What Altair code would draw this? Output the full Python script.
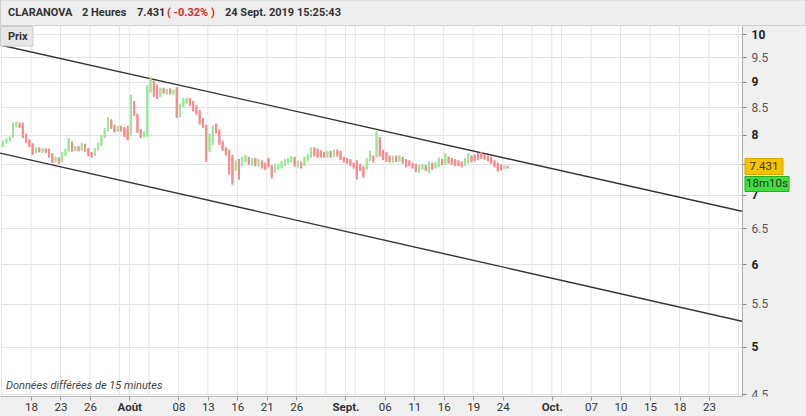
import altair as alt
import pandas as pd

# ---------------- data ----------------
# trading-day index (0 = Mon 15 July 2019) of the x-axis labels
tick_days = [3, 6, 9, 13, 18, 21, 24, 27, 30, 35, 39, 42, 45, 48, 51, 56, 60, 63, 66, 69, 72]
tick_labels = ["18", "23", "26", "Août", "08", "13", "16", "21", "26", "Sept.", "06",
               "11", "16", "19", "24", "Oct.", "07", "10", "15", "18", "23"]
month_days = [13, 35, 56]
grid_days = list(range(0, 76, 3)) + month_days
y_ticks = [4.5, 5, 5.5, 6, 6.5, 7, 7.5, 8, 8.5, 9, 9.5, 10]
hidden_y_labels = [7.5]   # covered by the last-price box in the original

# candles (3 per trading day)
opens = [7.80, 7.86, 7.90, 7.95, 8.15, 8.20, 8.18, 8.00, 7.90, 7.84,
         7.70, 7.76, 7.70, 7.75, 7.74, 7.66, 7.55, 7.60, 7.54, 7.64,
         7.72, 7.86, 7.73, 7.78, 7.73, 7.82, 7.75, 7.68, 7.64, 7.74,
         7.82, 7.96, 8.08, 8.26, 8.14, 8.06, 8.14, 8.12, 8.10, 7.99,
         8.60, 8.36, 8.08, 7.96, 7.98, 8.80, 9.00, 8.90, 8.72, 8.86,
         8.76, 8.84, 8.76, 8.86, 8.34, 8.52, 8.60, 8.66, 8.60, 8.50,
         8.42, 8.26, 8.16, 7.72, 7.85, 8.18, 8.06, 7.86, 7.76, 7.72,
         7.62, 7.40, 7.56, 7.48, 7.54, 7.60, 7.50, 7.58, 7.48, 7.54,
         7.50, 7.58, 7.46, 7.38, 7.42, 7.44, 7.48, 7.52, 7.54, 7.60,
         7.46, 7.52, 7.48, 7.56, 7.62, 7.76, 7.72, 7.70, 7.68, 7.62,
         7.70, 7.63, 7.72, 7.70, 7.60, 7.58, 7.56, 7.50, 7.54, 7.48,
         7.44, 7.42, 7.56, 7.62, 7.62, 7.94, 7.72, 7.68, 7.62, 7.54,
         7.62, 7.55, 7.60, 7.56, 7.54, 7.50, 7.48, 7.38, 7.42, 7.46,
         7.40, 7.50, 7.44, 7.46, 7.56, 7.50, 7.60, 7.58, 7.56, 7.54,
         7.52, 7.48, 7.52, 7.62, 7.62, 7.64, 7.68, 7.64, 7.62, 7.60,
         7.54, 7.50, 7.47, 7.42, 7.45]
closes = [7.88, 7.92, 7.95, 8.20, 8.22, 8.14, 7.95, 7.88, 7.80, 7.66,
          7.76, 7.70, 7.75, 7.70, 7.62, 7.52, 7.60, 7.53, 7.66, 7.74,
          7.92, 7.72, 7.78, 7.73, 7.84, 7.72, 7.64, 7.62, 7.75, 7.84,
          7.98, 8.10, 8.28, 8.12, 8.06, 8.14, 8.08, 7.98, 7.92, 8.70,
          8.36, 8.05, 7.96, 8.04, 8.90, 9.05, 8.82, 8.70, 8.85, 8.78,
          8.84, 8.76, 8.82, 8.32, 8.55, 8.64, 8.66, 8.56, 8.45, 8.38,
          8.22, 8.14, 7.56, 7.98, 8.14, 8.04, 7.84, 7.74, 7.66, 7.34,
          7.20, 7.52, 7.30, 7.60, 7.62, 7.50, 7.57, 7.50, 7.56, 7.44,
          7.42, 7.46, 7.30, 7.47, 7.48, 7.52, 7.55, 7.58, 7.60, 7.48,
          7.52, 7.44, 7.60, 7.64, 7.76, 7.64, 7.62, 7.62, 7.62, 7.70,
          7.62, 7.72, 7.64, 7.58, 7.54, 7.52, 7.48, 7.44, 7.26, 7.40,
          7.30, 7.56, 7.70, 7.54, 8.04, 7.64, 7.60, 7.56, 7.54, 7.62,
          7.55, 7.62, 7.52, 7.46, 7.48, 7.44, 7.38, 7.46, 7.48, 7.40,
          7.52, 7.42, 7.50, 7.58, 7.50, 7.65, 7.52, 7.50, 7.48, 7.48,
          7.46, 7.58, 7.66, 7.54, 7.56, 7.58, 7.60, 7.58, 7.56, 7.52,
          7.46, 7.40, 7.41, 7.46, 7.431]
highs = [7.90, 7.94, 7.97, 8.22, 8.24, 8.22, 8.22, 8.02, 7.92, 7.85,
         7.78, 7.78, 7.77, 7.76, 7.76, 7.68, 7.62, 7.61, 7.70, 7.76,
         7.94, 7.88, 7.80, 7.80, 7.86, 7.84, 7.77, 7.70, 7.77, 7.86,
         8.00, 8.12, 8.32, 8.28, 8.18, 8.16, 8.16, 8.14, 8.16, 8.74,
         8.62, 8.38, 8.10, 8.06, 8.93, 9.10, 9.02, 8.94, 8.88, 8.88,
         8.86, 8.87, 8.84, 8.89, 8.57, 8.68, 8.68, 8.68, 8.62, 8.54,
         8.45, 8.30, 8.18, 8.02, 8.17, 8.20, 8.10, 7.90, 7.78, 7.74,
         7.65, 7.56, 7.58, 7.62, 7.65, 7.62, 7.60, 7.60, 7.58, 7.56,
         7.52, 7.60, 7.48, 7.50, 7.50, 7.55, 7.58, 7.60, 7.63, 7.62,
         7.55, 7.54, 7.62, 7.66, 7.78, 7.78, 7.76, 7.73, 7.70, 7.72,
         7.72, 7.74, 7.74, 7.72, 7.62, 7.60, 7.58, 7.52, 7.56, 7.50,
         7.46, 7.60, 7.72, 7.64, 8.06, 7.96, 7.74, 7.70, 7.64, 7.64,
         7.64, 7.65, 7.62, 7.58, 7.56, 7.52, 7.50, 7.48, 7.50, 7.48,
         7.54, 7.52, 7.53, 7.61, 7.58, 7.68, 7.62, 7.60, 7.58, 7.56,
         7.54, 7.60, 7.68, 7.64, 7.66, 7.68, 7.70, 7.66, 7.64, 7.62,
         7.56, 7.52, 7.49, 7.48, 7.47]
lows = [7.78, 7.84, 7.88, 7.94, 8.13, 8.12, 7.94, 7.85, 7.78, 7.65,
        7.68, 7.69, 7.68, 7.68, 7.60, 7.51, 7.52, 7.50, 7.53, 7.63,
        7.70, 7.70, 7.71, 7.71, 7.72, 7.70, 7.62, 7.60, 7.63, 7.72,
        7.80, 7.94, 8.06, 8.10, 8.04, 8.05, 8.05, 7.96, 7.90, 7.98,
        8.34, 8.03, 7.94, 7.95, 7.96, 8.78, 8.70, 8.66, 8.70, 8.76,
        8.74, 8.74, 8.74, 8.30, 8.32, 8.50, 8.56, 8.52, 8.42, 8.36,
        8.18, 8.12, 7.53, 7.70, 7.82, 8.02, 7.82, 7.72, 7.64, 7.32,
        7.16, 7.38, 7.24, 7.46, 7.52, 7.48, 7.47, 7.46, 7.45, 7.42,
        7.40, 7.44, 7.26, 7.35, 7.40, 7.42, 7.46, 7.50, 7.52, 7.45,
        7.44, 7.42, 7.46, 7.54, 7.60, 7.62, 7.60, 7.60, 7.60, 7.60,
        7.60, 7.61, 7.62, 7.56, 7.52, 7.50, 7.46, 7.42, 7.24, 7.38,
        7.27, 7.40, 7.54, 7.52, 7.60, 7.62, 7.56, 7.53, 7.52, 7.52,
        7.53, 7.53, 7.50, 7.44, 7.46, 7.42, 7.36, 7.35, 7.40, 7.38,
        7.35, 7.40, 7.42, 7.44, 7.48, 7.48, 7.50, 7.48, 7.46, 7.46,
        7.44, 7.46, 7.50, 7.52, 7.54, 7.56, 7.58, 7.56, 7.54, 7.50,
        7.44, 7.37, 7.39, 7.41, 7.42]

# channel lines (start/end at the chart's left and right edges)
chan_days = [-0.155, 75.36]
chan_upper = [9.76, 6.75]
chan_lower = [7.68, 5.29]

last_price = "7.431"
countdown = "18m10s"

# ---------------- tables ----------------
n = len(closes)
candles = pd.DataFrame({
    "t": [(j // 3) + ((j % 3) + 0.5) / 3 for j in range(n)],
    "open": opens, "close": closes, "high": highs, "low": lows,
})
candles["dir"] = ["up" if c >= o else "down" for o, c in zip(opens, closes)]

chan = pd.DataFrame({
    "t": chan_days * 2,
    "p": chan_upper + chan_lower,
    "line": ["upper"] * 2 + ["lower"] * 2,
})
grid_df = pd.DataFrame({"t": grid_days})
one = pd.DataFrame({"a": [0]})

W, H = 742, 370
BG = "#f0f0f0"

xscale = alt.Scale(domain=[chan_days[0], chan_days[1]], nice=False, zero=False)
yscale = alt.Scale(type="log", domain=[4.482, 10.179], nice=False, zero=False)

tick_arr = "[" + ",".join(str(d) for d in tick_days) + "]"
lab_arr = "[" + ",".join("'" + s + "'" for s in tick_labels) + "]"
month_arr = "[" + ",".join(str(d) for d in month_days) + "]"
hid_arr = "[" + ",".join(str(v) for v in hidden_y_labels) + "]"

x_axis = alt.Axis(
    values=tick_days, title=None, grid=False, orient="bottom",
    labelExpr=f"indexof({tick_arr}, datum.value) >= 0 ? {lab_arr}[indexof({tick_arr}, datum.value)] : ''",
    labelFontWeight={"condition": {"test": f"indexof({month_arr}, datum.value) >= 0", "value": "bold"}, "value": "normal"},
    labelFontSize=11.5, labelColor="#333333", labelPadding=1, labelOverlap=False,
    tickSize=4, tickColor="#999999", domainColor="#bbbbbb", labelFlush=False, zindex=1,
)
y_axis = alt.Axis(
    values=y_ticks, title=None, orient="right", grid=True, gridColor="#e2e2e2",
    labelExpr=f"indexof({hid_arr}, datum.value) >= 0 ? '' : (datum.value % 1 === 0 ? format(datum.value, 'd') : format(datum.value, '.1f'))",
    labelFontWeight={"condition": {"test": "datum.value % 1 === 0", "value": "bold"}, "value": "normal"},
    labelColor={"condition": {"test": "datum.value % 1 === 0", "value": "#222222"}, "value": "#555555"},
    labelFontSize=12, labelPadding=5, labelOverlap=False, labelBaseline="middle",
    tickSize=4, tickColor="#888888", domainColor="#aaaaaa", zindex=0,
)

X = lambda f: alt.X(f, scale=xscale, axis=x_axis)
Y = lambda f: alt.Y(f, scale=yscale, axis=y_axis)

vgrid = alt.Chart(grid_df).mark_rule(color="#e4e4e4", strokeWidth=1).encode(
    x=X("t:Q"), y=alt.value(0), y2=alt.value(H),
)

channel = alt.Chart(chan).mark_line(color="#333333", strokeWidth=1.4, clip=True).encode(
    x=X("t:Q"), y=Y("p:Q"), detail="line:N",
)

wicks = alt.Chart(candles).mark_rule(strokeWidth=2).encode(
    x=X("t:Q"), y=Y("low:Q"), y2="high:Q",
    color=alt.Color("dir:N", scale=alt.Scale(domain=["up", "down"], range=["#9be89b", "#f68c8c"]), legend=None),
)
bodies = alt.Chart(candles).mark_rule(strokeWidth=2).encode(
    x=X("t:Q"), y=Y("open:Q"), y2="close:Q",
    color=alt.Color("dir:N", scale=alt.Scale(domain=["up", "down"], range=["#3cd43c", "#e8141b"]), legend=None),
)

def rect(x1, x2, y1, y2, fill, stroke=None):
    kw = {"fill": fill}
    if stroke:
        kw["stroke"] = stroke
        kw["strokeWidth"] = 1
    return alt.Chart(one).mark_rect(**kw).encode(
        x=alt.value(x1), x2=alt.value(x2), y=alt.value(y1), y2=alt.value(y2))

def text(s, x, y, size=11.5, weight="normal", color="#333333", align="left", style="normal"):
    return alt.Chart(one).mark_text(
        text=s, fontSize=size, fontWeight=weight, color=color, align=align,
        baseline="middle", fontStyle=style, font="Roboto").encode(
        x=alt.value(x), y=alt.value(y))

# chrome
bottom_cover = rect(0, 806, H + 0.5, H + 20, BG)
header = rect(0.5, 805.5, -26, -0.5, "#eeeeee", "#cfcfcf")
prix_box = rect(0.5, 33, 0.5, 20, "#e6e6e6", "#cccccc")
h1 = text("CLARANOVA", 8, -13, 11, "bold", "#333333")
h2 = text("2 Heures", 82, -13, 11, "bold", "#333333")
h3 = text("7.431", 137, -13, 11, "bold", "#333333")
h4 = text("( -0.32% )", 167, -13, 11, "bold", "#d42a2a")
h5 = text("24 Sept. 2019 15:25:43", 225, -13, 11, "bold", "#333333")
prix = text("Prix", 8, 10.5, 11, "bold", "#333333")
footer = text("Données différées de 15 minutes", 6, 360, 11, "normal", "#444444", style="italic")
price_box = rect(745, 783, 132.5, 148.5, "#f5c400", "#d9a600")
price_txt = text(last_price, 764, 140.8, 11.5, "normal", "#333333", align="center")
cd_box = rect(745, 789, 150.5, 165.5, "#44dd44", "#22b022")
cd_txt = text(countdown, 767, 158.3, 11.5, "normal", "#1a3a1a", align="center")

chart = alt.layer(
    vgrid, channel, wicks, bodies,
    bottom_cover, header, prix_box, h1, h2, h3, h4, h5, prix, footer,
    price_box, price_txt, cd_box, cd_txt,
).properties(
    width=W, height=H,
    autosize=alt.AutoSizeParams(type="none"),
    padding={"left": 0, "top": 26, "right": 64, "bottom": 20},
).configure(
    background=BG, font="Roboto",
).configure_axis(
    labelOverlap=False,
).configure_view(fill="white", stroke=None)

chart.save("out.html", embed_options={"renderer": "svg", "actions": False})
